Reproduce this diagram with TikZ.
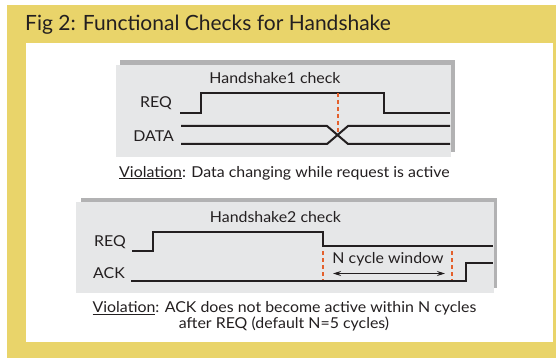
\documentclass[tikz,border=0pt]{standalone}
\usepackage{fontspec}
\setmainfont{Lato}
\newfontfamily\bodyfont[FakeStretch=1.06]{Lato}
\usetikzlibrary{arrows.meta}
\definecolor{ylw}{RGB}{233,212,106}
\definecolor{boxgray}{RGB}{230,231,232}
\definecolor{shgray}{RGB}{178,178,179}
\definecolor{txt}{RGB}{35,31,32}
\definecolor{redmk}{RGB}{228,96,44}
\begin{document}
\begin{tikzpicture}[x=1pt,y=-1pt,
  sig/.style={line width=2pt, draw=txt, line join=miter},
  redline/.style={line width=2pt, draw=redmk, dash pattern=on 4pt off 3pt},
  lbl/.style={inner sep=0pt, text=txt, font=\bodyfont\fontsize{15}{18}\selectfont},
  capt/.style={inner sep=0pt, text=txt, font=\bodyfont\fontsize{15}{17}\selectfont},
  panel/.style={fill=boxgray, draw=none},
  shadow/.style={fill=shgray, draw=none}]
\useasboundingbox (0,0) rectangle (556,358);
% frame
\fill[ylw] (7,5) rectangle (556,358);
\fill[white] (25.5,43) rectangle (553,342);
\node[inner sep=0pt, anchor=base west, text=txt, font=\fontsize{21}{24}\selectfont] (title) at (25,31) {Fig 2: Functional Checks for Handshake};

% panel 1
\fill[shadow] (120,60) rectangle (455,152);
\fill[panel] (116,65) rectangle (451,157);
\node[lbl] (h1) at (275,78) {Handshake1 check};
\node[lbl, anchor=east] (req1) at (172,103) {REQ};
\node[lbl, anchor=east] (data1) at (174,136) {DATA};
\draw[sig] (180,113) -- (201,113) -- (201,93) -- (384,93) -- (384,113) -- (450,113);
\draw[sig] (181,126) -- (327,126) -- (348,144) -- (450,144);
\draw[sig] (181,144) -- (327,144) -- (348,126) -- (450,126);
\coordinate (x1top) at (337.5,93);
\coordinate (x1bot) at (337.5,134);
\draw[redline] (x1top) -- (x1bot);
\node[capt, anchor=base] (v1) at (284.5,177) {\underline{Violation}: Data changing while request is active};

% panel 2
\fill[shadow] (81,198) rectangle (497,288);
\fill[panel] (75.5,202) rectangle (494,293);
\node[lbl] (h2) at (275.5,217) {Handshake2 check};
\node[lbl, anchor=east] (req2) at (126,242) {REQ};
\node[lbl, anchor=east] (ack2) at (125,273) {ACK};
\draw[sig] (132,251) -- (153,251) -- (153,232) -- (323,232) -- (323,246) -- (493,246);
\draw[sig] (131,281) -- (466,281) -- (466,263) -- (493,263);
\coordinate (wa1) at (323,251);
\coordinate (wa2) at (323,280);
\coordinate (wb1) at (452,251);
\coordinate (wb2) at (452,280);
\draw[redline] (wa1) -- (wa2);
\draw[redline] (wb1) -- (wb2);
\coordinate (arl) at (333,273.5);
\coordinate (arr) at (445,273.5);
\draw[line width=1pt, draw=txt, {Stealth[length=8pt,width=5pt]}-{Stealth[length=8pt,width=5pt]}] (arl) -- (arr);
\node[lbl] (ncw) at (388,259.5) {N cycle window};
\node[capt, anchor=base] (v2a) at (284.5,312.5) {\underline{Violation}: ACK does not become active within N cycles};
\node[capt, anchor=base] (v2b) at (284,328.5) {after REQ (default N=5 cycles)};
\end{tikzpicture}
\end{document}
